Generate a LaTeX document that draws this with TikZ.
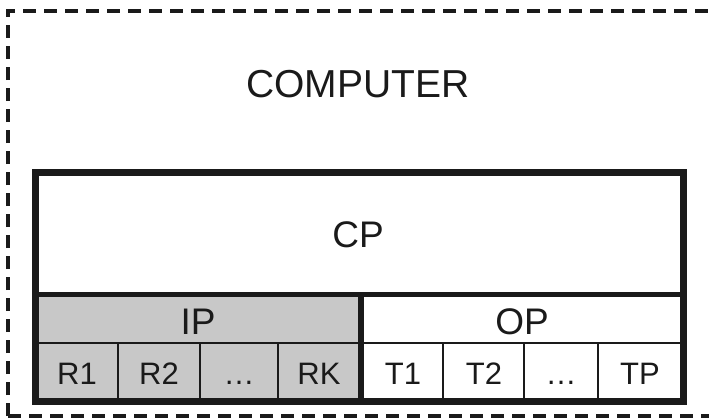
\documentclass[tikz,border=0pt]{standalone}
\usepackage{fontspec}
\setmainfont{Liberation Sans}
\definecolor{ipgrey}{HTML}{C8C8C8}
\definecolor{ink}{HTML}{1A1A1A}
\begin{document}
\begin{tikzpicture}[x=1pt,y=-1pt,
  bigtext/.style={font=\fontsize{39}{42}\selectfont, text=ink, inner sep=0pt, anchor=base},
  midtext/.style={font=\fontsize{37}{40}\selectfont, text=ink, inner sep=0pt, anchor=base},
  celltext/.style={font=\fontsize{31}{34}\selectfont, text=ink, inner sep=0pt, anchor=base},
  thickline/.style={draw=ink, line width=7pt},
  thinline/.style={draw=ink, line width=1.8pt},
  dashline/.style={draw=ink, line width=3.5pt, dash pattern=on 13pt off 8pt}]
\useasboundingbox (0,0) rectangle (709,420);
\clip (0,0) rectangle (709,420);
% dashed computer boundary (right side beyond picture)
\draw[dashline] (8,416) -- (8,11) -- (740,11);
\draw[dashline] (8,416) -- (740,416);
\node[bigtext] (computer) at (358,97) {COMPUTER};
% IP grey area
\fill[ipgrey] (35,294) rectangle (361,401);
% cell dividers
\draw[thinline] (35,343) -- (683,343);
\foreach \x in {118,200,278,443,524,598} {\draw[thinline] (\x,343) -- (\x,401);}
% main lines
\draw[draw=ink, line width=5pt] (35,294) -- (683,294);
\draw[draw=ink, line width=6pt] (361,294) -- (361,401);
\draw[thickline] (35,172) rectangle (683,401);
% labels
\node[midtext] (cp) at (358,247) {CP};
\node[midtext] (ip) at (198,334) {IP};
\node[midtext] (op) at (522,334) {OP};
\node[celltext] (r1) at (77,384) {R1};
\node[celltext] (r2) at (159,384) {R2};
\node[celltext] (rd) at (239,384) {…};
\node[celltext] (rk) at (319,384) {RK};
\node[celltext] (t1) at (403,384) {T1};
\node[celltext] (t2) at (484,384) {T2};
\node[celltext] (td) at (561,384) {…};
\node[celltext] (tp) at (640,384) {TP};
\end{tikzpicture}
\end{document}
